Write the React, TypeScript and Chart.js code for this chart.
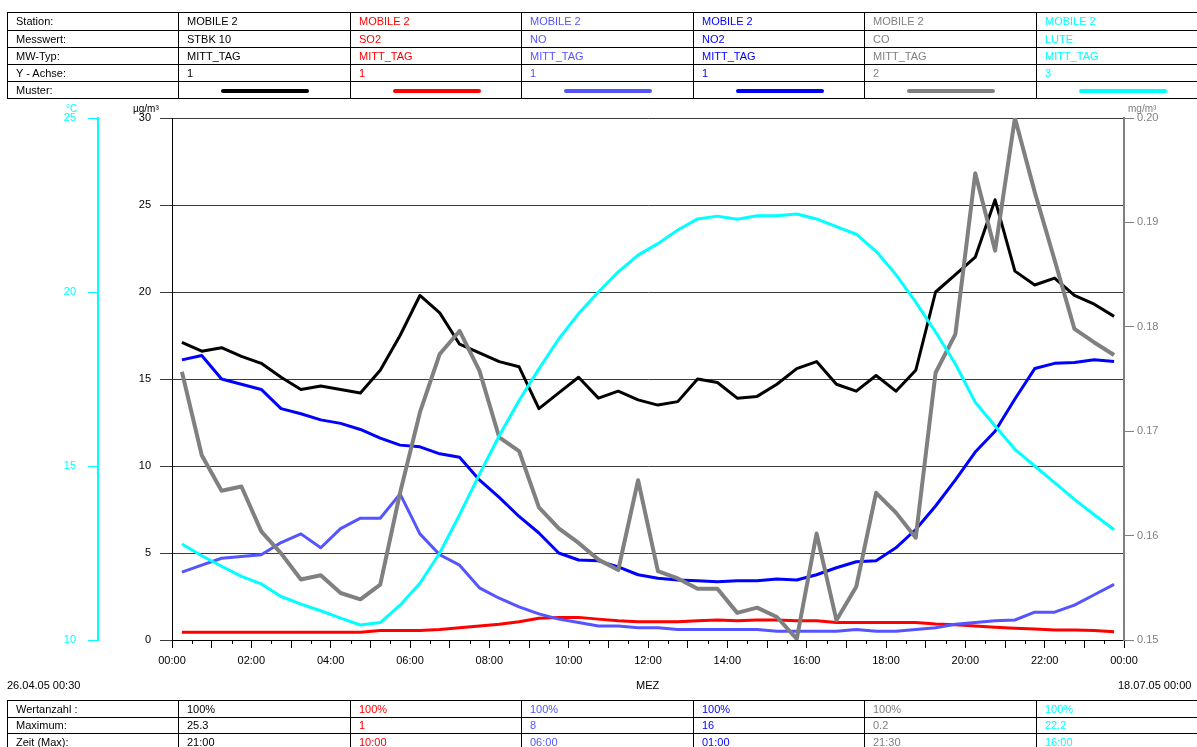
import React, { useEffect, useRef } from "react";
import { Chart, registerables } from "chart.js";

Chart.register(...registerables);

const W = 1197;
const H = 747;
const FONT = '"Liberation Sans", Arial, Helvetica, sans-serif';

// Half-hour means, plotted at the middle of each interval
const times = [
  "00:15", "00:45", "01:15", "01:45", "02:15", "02:45", "03:15", "03:45",
  "04:15", "04:45", "05:15", "05:45", "06:15", "06:45", "07:15", "07:45",
  "08:15", "08:45", "09:15", "09:45", "10:15", "10:45", "11:15", "11:45",
  "12:15", "12:45", "13:15", "13:45", "14:15", "14:45", "15:15", "15:45",
  "16:15", "16:45", "17:15", "17:45", "18:15", "18:45", "19:15", "19:45",
  "20:15", "20:45", "21:15", "21:45", "22:15", "22:45", "23:15", "23:45",
];

// STBK 10 (µg/m³, axis 1)
const stbk10 = [
  17.1, 16.6, 16.8, 16.3, 15.9, 15.1, 14.4, 14.6, 14.4, 14.2, 15.5, 17.5,
  19.8, 18.8, 17.0, 16.5, 16.0, 15.7, 13.3, 14.2, 15.1, 13.9, 14.3, 13.8,
  13.5, 13.7, 15.0, 14.8, 13.9, 14.0, 14.7, 15.6, 16.0, 14.7, 14.3, 15.2,
  14.3, 15.5, 20.0, 21.0, 22.0, 25.3, 21.2, 20.4, 20.8, 19.8, 19.3, 18.6,
];
// SO2 (µg/m³, axis 1)
const so2 = [
  0.45, 0.45, 0.45, 0.45, 0.45, 0.45, 0.45, 0.45, 0.45, 0.45, 0.55, 0.55,
  0.55, 0.6, 0.7, 0.8, 0.9, 1.05, 1.25, 1.3, 1.3, 1.2, 1.1, 1.05,
  1.05, 1.05, 1.1, 1.15, 1.1, 1.15, 1.15, 1.1, 1.1, 1.0, 1.0, 1.0,
  1.0, 1.0, 0.92, 0.87, 0.8, 0.73, 0.67, 0.63, 0.58, 0.58, 0.54, 0.48,
];
// NO (µg/m³, axis 1)
const no = [
  3.9, 4.3, 4.7, 4.8, 4.9, 5.6, 6.1, 5.3, 6.4, 7.0, 7.0, 8.4,
  6.1, 4.9, 4.3, 3.0, 2.4, 1.9, 1.5, 1.2, 1.0, 0.8, 0.8, 0.7,
  0.7, 0.6, 0.6, 0.6, 0.6, 0.6, 0.5, 0.5, 0.5, 0.5, 0.6, 0.5,
  0.5, 0.6, 0.7, 0.9, 1.0, 1.1, 1.15, 1.6, 1.6, 2.0, 2.6, 3.2,
];
// NO2 (µg/m³, axis 1)
const no2 = [
  16.1, 16.35, 15.0, 14.7, 14.4, 13.3, 13.0, 12.65, 12.45, 12.1, 11.6, 11.2,
  11.1, 10.7, 10.5, 9.2, 8.2, 7.1, 6.15, 5.0, 4.6, 4.55, 4.2, 3.75,
  3.55, 3.45, 3.4, 3.35, 3.4, 3.4, 3.5, 3.45, 3.75, 4.15, 4.5, 4.55,
  5.3, 6.35, 7.7, 9.2, 10.8, 12.0, 13.85, 15.6, 15.9, 15.95, 16.1, 16.0,
];
// CO (mg/m³, axis 2)
const co = [
  0.1757, 0.1677, 0.1643, 0.1647, 0.1604, 0.1583, 0.1558, 0.1562, 0.1545, 0.1539, 0.1553, 0.1641,
  0.1718, 0.1774, 0.1796, 0.1758, 0.1694, 0.1681, 0.1627, 0.1607, 0.1593, 0.1577, 0.1567, 0.1653,
  0.1566, 0.1559, 0.1549, 0.1549, 0.1526, 0.1531, 0.1522, 0.1501, 0.1602, 0.1519, 0.1551, 0.1641,
  0.1622, 0.1598, 0.1756, 0.1793, 0.1947, 0.1873, 0.2, 0.1929, 0.1864, 0.1798, 0.1785, 0.1773,
];
// LUTE (°C, axis 3)
const lute = [
  12.76, 12.42, 12.12, 11.83, 11.61, 11.25, 11.03, 10.84, 10.63, 10.43, 10.5, 11.0,
  11.63, 12.5, 13.6, 14.76, 15.87, 16.88, 17.79, 18.65, 19.38, 20.0, 20.58, 21.06,
  21.39, 21.78, 22.1, 22.18, 22.09, 22.19, 22.19, 22.24, 22.1, 21.88, 21.66, 21.17,
  20.5, 19.71, 18.85, 17.93, 16.83, 16.15, 15.48, 15.0, 14.52, 14.04, 13.6, 13.17,
];

const xTickLabels = [
  "00:00", "02:00", "04:00", "06:00", "08:00", "10:00", "12:00",
  "14:00", "16:00", "18:00", "20:00", "22:00", "00:00",
];
const leftTicks = [0, 5, 10, 15, 20, 25, 30];
const tempTicks = [10, 15, 20, 25];
const coTicks = [0.15, 0.16, 0.17, 0.18, 0.19, 0.2];

const rowLabelsTop = ["Station:", "Messwert:", "MW-Typ:", "Y - Achse:", "Muster:"];
const rowLabelsBottom = ["Wertanzahl :", "Maximum:", "Zeit (Max):"];
const stations = ["MOBILE 2", "MOBILE 2", "MOBILE 2", "MOBILE 2", "MOBILE 2", "MOBILE 2"];
const components = ["STBK 10", "SO2", "NO", "NO2", "CO", "LUTE"];
const mwTypes = ["MITT_TAG", "MITT_TAG", "MITT_TAG", "MITT_TAG", "MITT_TAG", "MITT_TAG"];
const yAxes = ["1", "1", "1", "1", "2", "3"];
const seriesColors = ["#000000", "#ff0000", "#5555ff", "#0000ff", "#808080", "#00ffff"];
const seriesWidths = [3, 3, 3, 3, 4, 3];
const wertanzahl = ["100%", "100%", "100%", "100%", "100%", "100%"];
const maxima = ["25.3", "1", "8", "16", "0.2", "22.2"];
const maxTimes = ["21:00", "10:00", "06:00", "01:00", "21:30", "16:00"];

const toHours = (s: string) => {
  const [h, m] = s.split(":").map(Number);
  return h + m / 60;
};

const colX = [7, 178, 350, 521, 693, 864, 1036, 1207];

type Cell = { text?: string; color?: string; line?: { color: string; width: number } };

function GridTable({ rowTops, bottom, rows }: { rowTops: number[]; bottom: number; rows: Cell[][] }) {
  const cells: React.ReactNode[] = [];
  rows.forEach((row, r) => {
    const top = rowTops[r];
    const h = (r + 1 < rowTops.length ? rowTops[r + 1] : bottom) - top;
    row.forEach((cell, c) => {
      const left = colX[c];
      const w = colX[c + 1] - left;
      cells.push(
        <div
          key={`${r}-${c}`}
          style={{
            position: "absolute",
            left,
            top,
            width: w,
            height: h,
            boxSizing: "border-box",
            borderLeft: "1px solid #000",
            borderTop: "1px solid #000",
            paddingLeft: 8,
            lineHeight: `${h - 1}px`,
            whiteSpace: "nowrap",
            overflow: "hidden",
            color: cell.color || "#000",
          }}
        >
          {cell.text}
          {cell.line ? (
            <div
              style={{
                position: "absolute",
                left: (w - 88) / 2,
                top: (h - cell.line.width) / 2,
                width: 88,
                height: cell.line.width,
                borderRadius: 2,
                background: cell.line.color,
              }}
            />
          ) : null}
        </div>
      );
    });
  });
  cells.push(
    <div
      key="bottom"
      style={{ position: "absolute", left: colX[0], top: bottom, width: colX[7] - colX[0], height: 1, background: "#000" }}
    />
  );
  return <>{cells}</>;
}

export default function App() {
  const canvasRef = useRef<HTMLCanvasElement | null>(null);

  useEffect(() => {
    if (!canvasRef.current) return;
    const xs = times.map(toHours);
    const mk = (vals: number[]) => vals.map((v, i) => ({ x: xs[i], y: v }));
    const seriesData = [stbk10, so2, no, no2, co, lute];
    const axisIds = ["y", "y", "y", "y", "yCO", "yT"];
    const minorTicks: number[] = [];
    for (let h = 0.5; h < 24; h += 1) minorTicks.push(h);

    const extras = {
      id: "extras",
      afterDraw(chart: any) {
        const ctx = chart.ctx;
        const xScale = chart.scales.x;
        ctx.save();
        ctx.strokeStyle = "#000";
        ctx.lineWidth = 1;
        for (const m of minorTicks) {
          const px = Math.round(xScale.getPixelForValue(m)) + 0.5;
          ctx.beginPath();
          ctx.moveTo(px, xScale.top);
          ctx.lineTo(px, xScale.top + 4);
          ctx.stroke();
        }
        ctx.restore();
      },
    };

    const font = { family: FONT, size: 11 };
    const chart = new Chart(canvasRef.current, {
      type: "line",
      data: {
        datasets: seriesData.map((vals, i) => ({
          label: components[i],
          data: mk(vals),
          borderColor: seriesColors[i],
          backgroundColor: seriesColors[i],
          borderWidth: seriesWidths[i],
          pointRadius: 0,
          tension: 0,
          fill: false,
          yAxisID: axisIds[i],
          order: 6 - i,
          borderJoinStyle: "round",
        })),
      },
      options: {
        responsive: false,
        maintainAspectRatio: false,
        animation: false,
        devicePixelRatio: 1,
        layout: { padding: { left: 0, right: 0, top: 118, bottom: 67 } },
        plugins: { legend: { display: false }, tooltip: { enabled: false }, title: { display: false } },
        scales: {
          x: {
            type: "linear",
            min: 0,
            max: 24,
            position: "bottom",
            afterBuildTicks: (s: any) => {
              s.ticks = xTickLabels.flatMap((_, k) => (k < 12 ? [{ value: 2 * k }, { value: 2 * k + 1 }] : [{ value: 24 }]));
            },
            ticks: {
              autoSkip: false,
              maxRotation: 0,
              minRotation: 0,
              color: "#000",
              font,
              padding: 6,
              callback: (v: any) => (Number(v) % 2 === 0 ? xTickLabels[Number(v) / 2] : ""),
            },
            grid: { drawOnChartArea: false, drawTicks: true, tickLength: 8, color: "#000" },
            border: { color: "#000", width: 1 },
            afterFit: (s: any) => {
              s.height = 40;
            },
          },
          y: {
            position: "left",
            min: 0,
            max: 30,
            weight: 0,
            afterBuildTicks: (s: any) => {
              s.ticks = leftTicks.map((v) => ({ value: v }));
            },
            ticks: { color: "#000", font, padding: 9 },
            grid: { color: "#3a3a3a", tickLength: 12, drawTicks: true },
            border: { color: "#000", width: 1 },
            afterFit: (s: any) => {
              s.width = 74;
            },
          },
          yT: {
            position: "left",
            min: 10,
            max: 25,
            weight: 1,
            afterBuildTicks: (s: any) => {
              s.ticks = tempTicks.map((v) => ({ value: v }));
            },
            ticks: { color: "#00ffff", font, padding: 12 },
            grid: { drawOnChartArea: false, color: "#00ffff", tickLength: 10 },
            border: { color: "#00ffff", width: 2 },
            afterFit: (s: any) => {
              s.width = 98;
            },
          },
          yCO: {
            position: "right",
            min: 0.15,
            max: 0.2,
            afterBuildTicks: (s: any) => {
              s.ticks = coTicks.map((v) => ({ value: v }));
            },
            ticks: {
              color: "#808080",
              font,
              padding: 3,
              callback: (v: any) => Number(v).toFixed(2),
            },
            grid: { drawOnChartArea: false, color: "#808080", tickLength: 10 },
            border: { color: "#808080", width: 2 },
            afterFit: (s: any) => {
              s.width = 73;
            },
          },
        },
      } as any,
      plugins: [extras],
    });
    return () => chart.destroy();
  }, []);

  const topRows: Cell[][] = [
    [{ text: rowLabelsTop[0] }, ...stations.map((t, i) => ({ text: t, color: seriesColors[i] }))],
    [{ text: rowLabelsTop[1] }, ...components.map((t, i) => ({ text: t, color: seriesColors[i] }))],
    [{ text: rowLabelsTop[2] }, ...mwTypes.map((t, i) => ({ text: t, color: seriesColors[i] }))],
    [{ text: rowLabelsTop[3] }, ...yAxes.map((t, i) => ({ text: t, color: seriesColors[i] }))],
    [{ text: rowLabelsTop[4] }, ...seriesColors.map((c) => ({ line: { color: c, width: 4 } }))],
  ];
  const bottomRows: Cell[][] = [
    [{ text: rowLabelsBottom[0] }, ...wertanzahl.map((t, i) => ({ text: t, color: seriesColors[i] }))],
    [{ text: rowLabelsBottom[1] }, ...maxima.map((t, i) => ({ text: t, color: seriesColors[i] }))],
    [{ text: rowLabelsBottom[2] }, ...maxTimes.map((t, i) => ({ text: t, color: seriesColors[i] }))],
  ];

  const abs = (left: number, top: number, color = "#000", size = 11): React.CSSProperties => ({
    position: "absolute",
    left,
    top,
    color,
    fontSize: size,
    whiteSpace: "nowrap",
  });

  return (
    <div
      style={{
        position: "fixed",
        left: 0,
        top: 0,
        width: W,
        height: H,
        overflow: "hidden",
        background: "#fff",
        fontFamily: FONT,
        fontSize: 11,
      }}
    >
      <canvas ref={canvasRef} width={W} height={H} style={{ position: "absolute", left: 0, top: 0, width: W, height: H }} />
      <GridTable rowTops={[12, 30, 47, 64, 81]} bottom={98} rows={topRows} />
      <GridTable rowTops={[700, 717, 733]} bottom={750} rows={bottomRows} />
      <div style={abs(66, 103, "#00ffff", 10)}>°C</div>
      <div style={abs(133, 103, "#000", 10)}>µg/m³</div>
      <div style={abs(1128, 103, "#808080", 10)}>mg/m³</div>
      <div style={abs(7, 679)}>26.04.05 00:30</div>
      <div style={abs(636, 679)}>MEZ</div>
      <div style={abs(1118, 679)}>18.07.05 00:00</div>
    </div>
  );
}
